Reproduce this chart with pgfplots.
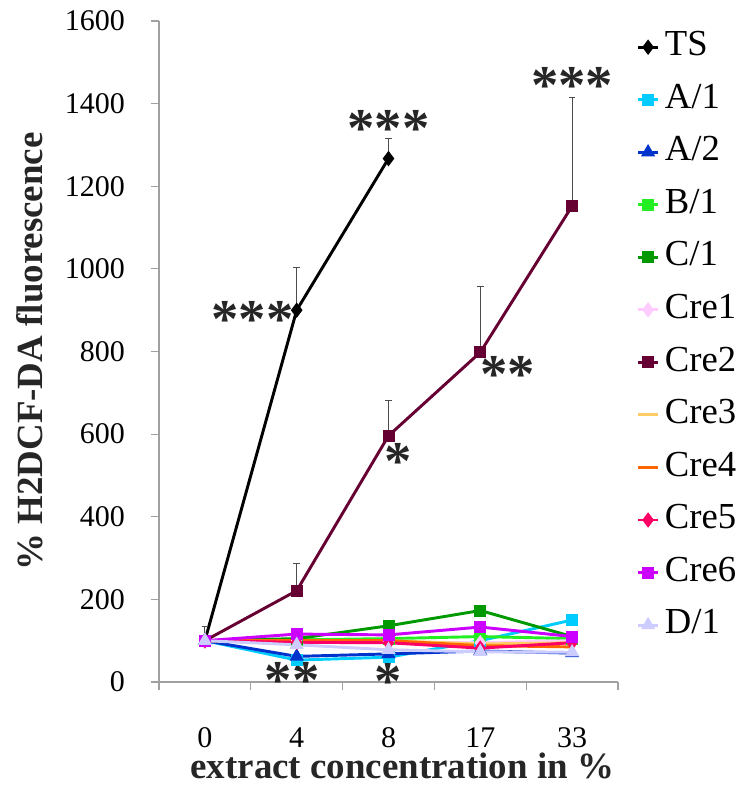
\documentclass[border=0pt]{standalone}
\usepackage{pgfplots}
\pgfplotsset{compat=1.18}
\usepackage{fontspec}
\setmainfont{Liberation Serif}
\definecolor{cA1}{HTML}{00CCFF}
\definecolor{cA2}{HTML}{0033CC}
\definecolor{cB1}{HTML}{22EE22}
\definecolor{cC1}{HTML}{009900}
\definecolor{cCre1}{HTML}{FFCCFF}
\definecolor{cCre2}{HTML}{660033}
\definecolor{cCre3}{HTML}{FFCC66}
\definecolor{cCre4}{HTML}{FF6600}
\definecolor{cCre5}{HTML}{FF0066}
\definecolor{cCre6}{HTML}{CC00FF}
\definecolor{cD1}{HTML}{CCCCFF}
\definecolor{axgray}{HTML}{A0A0A0}
\tikzset{stars/.style={font=\fontsize{41}{41}\selectfont\bfseries, text=black!85, inner sep=0pt}}
\begin{document}
\begin{tikzpicture}
\begin{axis}[
  scale only axis,
  width=344.25pt, height=495.75pt,
  xmin=-0.5, xmax=4.5, ymin=0, ymax=1600,
  axis x line*=bottom, axis y line*=left,
  axis line style={axgray, line width=0.8pt},
  xtick={0,1,2,3,4}, xticklabels={0,4,8,17,33},
  minor xtick={-0.5,0.5,1.5,2.5,3.5,4.5},
  ytick={0,200,...,1600},
  tick style={axgray, line width=0.8pt},
  major x tick style={draw=none},
  minor tick length=6pt,
  major tick length=6pt,
  tick align=outside,
  ticklabel style={font=\fontsize{22.5}{24}\selectfont},
  /pgf/number format/assume math mode=true,
  /pgf/number format/set thousands separator={},
  yticklabel style={xshift=-16pt},
  xticklabel style={inner sep=0pt, anchor=north, yshift=-28pt},
  xlabel={\textbf{extract concentration in \%}},
  ylabel={\textbf{\% H2DCF-DA fluorescence}},
  label style={font=\fontsize{27.7}{30}\selectfont, text=black!85, inner sep=0pt},
  xlabel style={at={(axis description cs:0.53,-0.1467)}, anchor=base},
  ylabel style={at={(axis description cs:-0.2527,0.5)}, anchor=south},
  every axis plot/.append style={line width=2.2pt, mark size=3.4pt},
  error bars/y dir=plus, error bars/y explicit,
  error bars/error bar style={line width=0.6pt, black!70, solid},
  error bars/error mark options={rotate=90, mark size=2.5pt, line width=0.6pt, black!70},
  legend style={at={(1.04,0.986)}, anchor=north west, draw=none, fill=none, inner sep=0pt,
    font=\fontsize{27.5}{30}\selectfont, row sep=14.4pt, column sep=4pt,
    nodes={inner sep=0pt, text height=19pt, text depth=6pt}},
  legend cell align=left,
  legend image code/.code={\draw[mark repeat=2,mark phase=2,#1] plot coordinates {(0pt,0pt) (7.5pt,0pt) (15pt,0pt)};},
  clip=false,
]
\addplot[black, mark=diamond*, mark size=4pt] coordinates {(0,100) +- (0,35) (1,900) +- (0,104) (2,1267) +- (0,49)};
\addlegendentry{TS}
\addplot[cA1, mark=square*] coordinates {(0,100) (1,53) (2,60) (3,100) (4,150) +- (0,12)};
\addlegendentry{A/1}
\addplot[cA2, mark=triangle*, mark size=4pt] coordinates {(0,100) (1,62) (2,68) (3,75) (4,70)};
\addlegendentry{A/2}
\addplot[cB1, mark=square*] coordinates {(0,100) (1,102) (2,105) (3,110) (4,105)};
\addlegendentry{B/1}
\addplot[cC1, mark=square*] coordinates {(0,100) (1,105) (2,136) +- (0,9) (3,173) (4,110)};
\addlegendentry{C/1}
\addplot[cCre1, mark=diamond*, mark size=4pt] coordinates {(0,100) (1,100) (2,97) (3,95) (4,100)};
\addlegendentry{Cre1}
\addplot[cCre2, mark=square*] coordinates {(0,100) (1,221) +- (0,67) (2,596) +- (0,86) (3,798) +- (0,160) (4,1152) +- (0,264)};
\addlegendentry{Cre2}
\addplot[cCre3, mark=none] coordinates {(0,100) (1,100) (2,100) (3,92) (4,95)};
\addlegendentry{Cre3}
\addplot[cCre4, mark=none] coordinates {(0,100) (1,100) (2,100) (3,88) (4,85)};
\addlegendentry{Cre4}
\addplot[cCre5, mark=diamond*, mark size=4pt] coordinates {(0,100) (1,96) (2,95) (3,82) (4,95)};
\addlegendentry{Cre5}
\addplot[cCre6, mark=square*] coordinates {(0,100) (1,116) (2,114) (3,133) (4,110)};
\addlegendentry{Cre6}
\addplot[cD1, mark=triangle*, mark size=4pt] coordinates {(0,100) (1,90) (2,78) (3,73) (4,72)};
\addlegendentry{D/1}
\node[stars] at (axis cs:0.52,877) {***};
\node[stars] at (axis cs:2,1340) {***};
\node[stars] at (axis cs:2.11,535) {*};
\node[stars] at (axis cs:3.3,745) {**};
\node[stars] at (axis cs:4,1445) {***};
\node[stars] at (axis cs:0.95,4) {**};
\node[stars] at (axis cs:2,2) {*};
\end{axis}
\useasboundingbox (-119.25pt,-87pt) rectangle (437.25pt,511.5pt);
\end{tikzpicture}
\end{document}
